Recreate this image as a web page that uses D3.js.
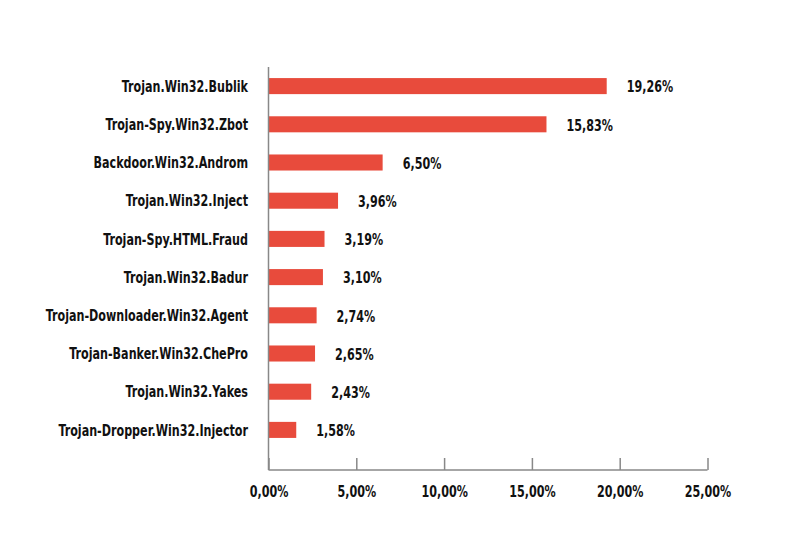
<!DOCTYPE html>
<html><head><meta charset="utf-8">
<script src="https://cdn.jsdelivr.net/npm/d3@7"></script>
<style>body{margin:0;background:#fff}svg{display:block}</style>
</head><body>
<script>
const categories = ["Trojan.Win32.Bublik","Trojan-Spy.Win32.Zbot","Backdoor.Win32.Androm","Trojan.Win32.Inject","Trojan-Spy.HTML.Fraud","Trojan.Win32.Badur","Trojan-Downloader.Win32.Agent","Trojan-Banker.Win32.ChePro","Trojan.Win32.Yakes","Trojan-Dropper.Win32.Injector"];
const values = [19.26,15.83,6.50,3.96,3.19,3.10,2.74,2.65,2.43,1.58];
const ticks = [0,5,10,15,20,25];

const W=800,H=559;
const font = "'DejaVu Sans Condensed','DejaVu Sans',sans-serif";
const SX = 0.752, FS = 16.5;
const svg = d3.select("body").append("svg").attr("width",W).attr("height",H);
const x = d3.scaleLinear().domain([0,25]).range([268.5,707.5]);
const y = d3.scaleBand().domain(categories).range([67,449]).paddingInner(0.58).paddingOuter(0.29);
const fmt = v => d3.format(".2f")(v).replace(".",",")+"%";

const g = svg.append("g").style("font-family",font).style("font-weight","bold");

// bars
g.selectAll("rect.bar").data(values).join("rect")
  .attr("x",x(0)).attr("y",(d,i)=>y(categories[i]))
  .attr("width",d=>x(d)-x(0)).attr("height",y.bandwidth())
  .attr("fill","#E84B3C");

// value labels
g.selectAll("text.val").data(values).join("text")
  .attr("transform",(d,i)=>`translate(${x(d)+20},${y(categories[i])+y.bandwidth()/2+0.5}) scale(${SX},1)`)
  .attr("dy","0.35em").attr("font-size",FS).attr("fill","#111")
  .text(d=>fmt(d));

// category labels
g.selectAll("text.cat").data(categories).join("text")
  .attr("transform",d=>`translate(248,${y(d)+y.bandwidth()/2}) scale(${SX},1)`)
  .attr("dy","0.35em").attr("text-anchor","end").attr("font-size",FS).attr("fill","#111")
  .text(d=>d);

// axes
const axisY = 470;
const xa = d3.axisBottom(x).tickValues(ticks).tickSize(-12).tickFormat(fmt);
const ax = g.append("g").attr("transform",`translate(0,${axisY})`).call(xa);
ax.select(".domain").attr("stroke","#888").attr("stroke-width",1.5).attr("d",`M${x(0)},0H${x(25)}`);
ax.selectAll(".tick line").attr("stroke","#888").attr("stroke-width",1.5);
ax.selectAll(".tick text").attr("y",null).attr("dy","0.35em")
  .attr("transform",`translate(0,21) scale(${SX},1)`)
  .attr("font-size",FS).attr("fill","#111")
  .style("font-family",font).style("font-weight","bold");
g.append("line").attr("x1",x(0)).attr("x2",x(0)).attr("y1",67).attr("y2",axisY)
  .attr("stroke","#888").attr("stroke-width",1.5);
</script>
</body></html>
